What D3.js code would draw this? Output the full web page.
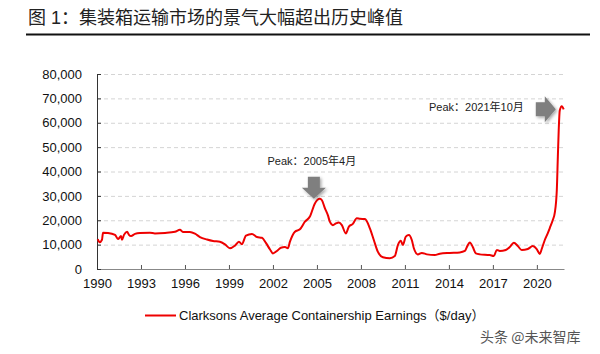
<!DOCTYPE html>
<html>
<head>
<meta charset="utf-8">
<script src="https://cdn.jsdelivr.net/npm/d3@7"></script>
<style>
  body { margin: 0; background: #fff; }
  svg { font-family: "Liberation Sans", Arial, "Noto Sans CJK SC", sans-serif; }
</style>
</head>
<body>
<div id="chart"></div>
<script>
// values (decimal year, $/day)
const years = [1990.05, 1990.18, 1990.34, 1990.41, 1990.75, 1991.23, 1991.43, 1991.64, 1991.70, 1991.84,
  1992.05, 1992.18, 1992.32, 1992.59, 1992.93, 1993.61, 1993.95, 1994.64, 1995.32, 1995.66,
  1995.86, 1996.34, 1996.68, 1997.02, 1997.50, 1997.91, 1998.38, 1998.73, 1999.07, 1999.41,
  1999.68, 1999.88, 2000.16, 2000.57, 2000.91, 2001.25, 2001.52, 2001.79, 2002.00, 2002.27,
  2002.54, 2002.82, 2003.02, 2003.16, 2003.50, 2003.84, 2004.18, 2004.52, 2004.86, 2005.20,
  2005.34, 2005.54, 2005.75, 2005.88, 2006.09, 2006.29, 2006.50, 2006.70, 2006.97, 2007.18,
  2007.45, 2007.72, 2007.93, 2008.27, 2008.61, 2008.88, 2009.15, 2009.50, 2009.97, 2010.31,
  2010.52, 2010.72, 2010.86, 2011.06, 2011.27, 2011.47, 2011.61, 2011.88, 2012.15, 2012.50,
  2013.04, 2013.38, 2014.06, 2014.74, 2015.09, 2015.29, 2015.43, 2015.63, 2015.84, 2016.11,
  2016.79, 2017.06, 2017.27, 2017.47, 2017.88, 2018.15, 2018.43, 2018.70, 2018.97, 2019.38,
  2019.72, 2019.99, 2020.20, 2020.33, 2020.54, 2020.74, 2020.88, 2021.08, 2021.22, 2021.36,
  2021.43, 2021.49, 2021.56, 2021.70, 2021.83];
const earnings = [12300, 11000, 12000, 14900, 14800, 14000, 12300, 13500, 12000, 14000,
  15300, 14000, 13500, 14400, 14800, 14900, 14600, 14800, 15300, 16100,
  15200, 15200, 14500, 13100, 12100, 11500, 11200, 10100, 8500, 9600,
  11200, 10200, 13700, 14400, 13100, 12800, 10700, 8100, 6400, 7400,
  8700, 9000, 8500, 11200, 15300, 16300, 19400, 21500, 26900, 28800,
  28200, 25000, 22000, 19400, 18000, 18700, 19100, 18000, 14600, 17400,
  18500, 20800, 20600, 20500, 16700, 11900, 7100, 4800, 4400, 5300,
  9800, 11600, 9800, 13300, 14000, 11900, 8500, 6000, 6600, 6000,
  5700, 6300, 6600, 6800, 7400, 9800, 10900, 9000, 6400, 6000,
  5700, 5300, 7800, 7400, 7800, 9000, 10800, 9400, 7800, 8200,
  9400, 8200, 6200, 8200, 11900, 14600, 16800, 20000, 23000, 32400,
  46000, 57000, 65000, 66800, 65500];
const xTicks = [1990, 1993, 1996, 1999, 2002, 2005, 2008, 2011, 2014, 2017, 2020];
const yTicks = [0, 10000, 20000, 30000, 40000, 50000, 60000, 70000, 80000];
const peaks = [
  { year: 2005.2, value: 28800, label: "Peak：2005年4月" },
  { year: 2021.7, value: 66800, label: "Peak：2021年10月" }
];
const title = "图 1：集装箱运输市场的景气大幅超出历史峰值";
const seriesName = "Clarksons Average Containership Earnings（$/day）";
const watermark = "头条 @未来智库";

const W = 600, H = 354;
const margin = { top: 74, right: 36, bottom: 85, left: 97 };
const width = W - margin.left - margin.right;
const height = H - margin.top - margin.bottom;

const svg = d3.select("#chart").append("svg")
    .attr("width", W)
    .attr("height", H);

const defs = svg.append("defs");
const shadow = defs.append("filter").attr("id", "shadow")
    .attr("x", "-50%").attr("y", "-50%").attr("width", "200%").attr("height", "200%");
shadow.append("feDropShadow")
    .attr("dx", 1.5).attr("dy", 1.5).attr("stdDeviation", 1.5)
    .attr("flood-color", "#000").attr("flood-opacity", 0.35);

// title
svg.append("text")
    .attr("x", 28).attr("y", 24)
    .attr("font-size", 18)
    .attr("fill", "#222")
    .text(title);
svg.append("line")
    .attr("x1", 26).attr("x2", 590)
    .attr("y1", 34.5).attr("y2", 34.5)
    .attr("stroke", "#111").attr("stroke-width", 2);

const g = svg.append("g")
    .attr("transform", `translate(${margin.left}, ${margin.top})`);

const x = d3.scaleLinear().domain([1990, 2021.85]).range([0, width]);
const y = d3.scaleLinear().domain([0, 80000]).range([height, 0]);

// gridlines
g.append("g")
    .call(d3.axisLeft(y).tickValues(yTicks.slice(1)).tickSize(-width).tickFormat(""))
    .call(s => s.select(".domain").remove())
    .selectAll("line")
    .attr("stroke", "#d4d4d4")
    .attr("stroke-dasharray", "4,3");

// x axis
g.append("g")
    .attr("transform", `translate(0, ${height})`)
    .call(d3.axisBottom(x).tickValues(xTicks).tickSizeInner(-4).tickSizeOuter(0).tickPadding(10).tickFormat(d3.format("d")))
    .call(s => s.select(".domain").attr("stroke", "#888"))
    .call(s => s.selectAll(".tick line").attr("stroke", "#555"))
    .selectAll("text")
    .attr("font-size", 13)
    .attr("fill", "#111");

// y axis
g.append("g")
    .call(d3.axisLeft(y).tickValues(yTicks).tickSizeInner(-4).tickSizeOuter(0).tickPadding(15).tickFormat(d3.format(",")))
    .call(s => s.select(".domain").attr("stroke", "#333"))
    .call(s => s.selectAll(".tick line").attr("stroke", "#333"))
    .selectAll("text")
    .attr("font-size", 13)
    .attr("fill", "#111");

// series
const points = years.map((yr, i) => [yr, earnings[i]]);
const line = d3.line()
    .x(d => x(d[0]))
    .y(d => y(d[1]))
    .curve(d3.curveMonotoneX);

g.append("path")
    .datum(points)
    .attr("fill", "none")
    .attr("stroke", "#ee0000")
    .attr("stroke-width", 2)
    .attr("stroke-linejoin", "round")
    .attr("d", line);

// peak 2005: down arrow above the peak
const p1 = peaks[0];
const ax = x(p1.year) - 6, ay = y(p1.value) - 2;
g.append("path")
    .attr("d", `M${ax - 6},${ay - 20} h12 v11 h6 l-12,11 l-12,-11 h6 z`)
    .attr("fill", "#7f7f7f")
    .attr("filter", "url(#shadow)");
g.append("text")
    .attr("x", ax - 2).attr("y", ay - 32)
    .attr("text-anchor", "middle")
    .attr("font-size", 11)
    .attr("fill", "#222")
    .text(p1.label);

// peak 2021: right arrow left of the peak
const p2 = peaks[1];
const bx = x(p2.year) - 6, by = y(p2.value) + 3;
g.append("path")
    .attr("d", `M${bx - 20},${by - 7} h9 v-6 l11,13 l-11,13 v-6 h-9 z`)
    .attr("fill", "#7f7f7f")
    .attr("filter", "url(#shadow)");
g.append("text")
    .attr("x", bx - 32).attr("y", by + 2)
    .attr("text-anchor", "end")
    .attr("font-size", 11)
    .attr("fill", "#222")
    .text(p2.label);

// legend
svg.append("line")
    .attr("x1", 145).attr("x2", 176)
    .attr("y1", 315.5).attr("y2", 315.5)
    .attr("stroke", "#ee0000").attr("stroke-width", 2);
svg.append("text")
    .attr("x", 179).attr("y", 320)
    .attr("font-size", 13)
    .attr("fill", "#111")
    .text(seriesName);

// watermark
svg.append("text")
    .attr("x", 480).attr("y", 342)
    .attr("font-size", 14)
    .attr("fill", "#555")
    .attr("font-family", "'Noto Sans CJK SC', sans-serif")
    .text(watermark);
</script>
</body>
</html>
